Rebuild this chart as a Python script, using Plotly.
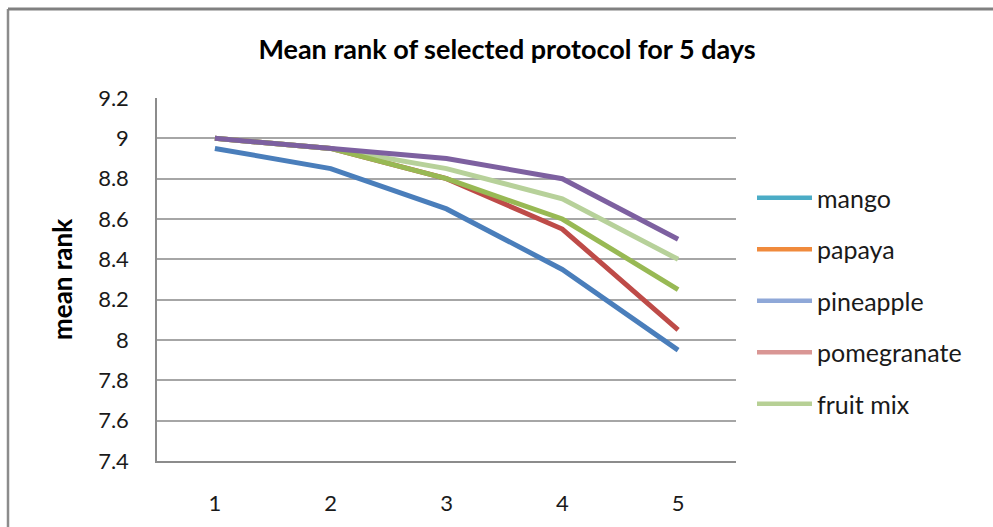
import plotly.graph_objects as go

days = [1, 2, 3, 4, 5]
series_names = ["mango", "papaya", "pineapple", "pomegranate", "fruit mix"]
mango = [8.95, 8.85, 8.65, 8.35, 7.95]
papaya = [9.0, 8.95, 8.8, 8.55, 8.05]
pineapple = [9.0, 8.95, 8.8, 8.6, 8.25]
pomegranate = [9.0, 8.95, 8.9, 8.8, 8.5]
fruit_mix = [9.0, 8.95, 8.85, 8.7, 8.4]
y_ticks = [7.4, 7.6, 7.8, 8.0, 8.2, 8.4, 8.6, 8.8, 9.0, 9.2]
y_tick_labels = ["7.4", "7.6", "7.8", "8", "8.2", "8.4", "8.6", "8.8", "9", "9.2"]

values = [mango, papaya, pineapple, pomegranate, fruit_mix]
line_colors = ["#4A7EBB", "#BE4B48", "#98B954", "#7D60A0", "#B7D19A"]
legend_colors = ["#4BACC6", "#F08A3C", "#8FA8D8", "#D99694", "#B7D095"]
draw_order = [0, 1, 4, 2, 3]

FONT = "Lato"
fig = go.Figure()
for i in draw_order:
    fig.add_trace(go.Scatter(x=days, y=values[i], mode="lines", name=series_names[i],
                             line=dict(color=line_colors[i], width=5),
                             showlegend=False))
for i, n in enumerate(series_names):
    fig.add_trace(go.Scatter(x=[None], y=[None], mode="lines", name=n,
                             legendgroup=n,
                             line=dict(color=legend_colors[i], width=4.5),
                             showlegend=True))

W, H = 993, 527
L, R, T, B = 157, 257, 98, 66
pw = W - L - R
ph = H - T - B

def px(x):
    return (x - L) / pw

def py(y):
    return (H - B - y) / ph

fig.update_layout(
    width=W, height=H,
    margin=dict(l=L, r=R, t=T, b=B),
    paper_bgcolor="white", plot_bgcolor="white",
    font=dict(family=FONT, color="#000000"),
    title=dict(text="<b>Mean rank of selected protocol for 5 days</b>",
               x=507 / W, xref="container", xanchor="center",
               y=1 - 50 / H, yref="container", yanchor="middle",
               font=dict(family=FONT, size=27, color="#000000")),
    xaxis=dict(range=[0.5, 5.5], tickmode="array", tickvals=days,
               ticktext=[str(d) for d in days], showgrid=False,
               showline=True, linecolor="#8C8C8C", linewidth=1.5,
               zeroline=False, ticks="", ticklabelstandoff=22,
               tickfont=dict(family=FONT, size=22, color="#1A1A1A")),
    yaxis=dict(range=[7.4, 9.2], tickmode="array", tickvals=y_ticks,
               ticktext=y_tick_labels, showgrid=True,
               gridcolor="#A6A6A6", gridwidth=1.5,
               showline=True, linecolor="#8C8C8C", linewidth=1.5,
               zeroline=False, ticks="", ticklabelstandoff=22,
               tickfont=dict(family=FONT, size=22, color="#1A1A1A")),
    legend=dict(x=px(752), y=py(175), xanchor="left", yanchor="top",
                font=dict(family=FONT, size=25, color="#1A1A1A"),
                itemwidth=55,
                tracegroupgap=16, bgcolor="rgba(0,0,0,0)"),
    annotations=[dict(text="<b>mean rank</b>", textangle=-90,
                      x=px(62), y=py(280), xref="paper", yref="paper",
                      showarrow=False, xanchor="center", yanchor="middle",
                      font=dict(family=FONT, size=26, color="#000000"))],
    shapes=[
        dict(type="line", xref="paper", yref="paper",
             x0=px(8), x1=px(8), y0=py(9), y1=py(540),
             line=dict(color="#8C8C8C", width=2.5)),
        dict(type="line", xref="paper", yref="paper",
             x0=px(8), x1=px(1000), y0=py(9), y1=py(9),
             line=dict(color="#808080", width=3)),
    ],
)

fig.write_html("out.html")
